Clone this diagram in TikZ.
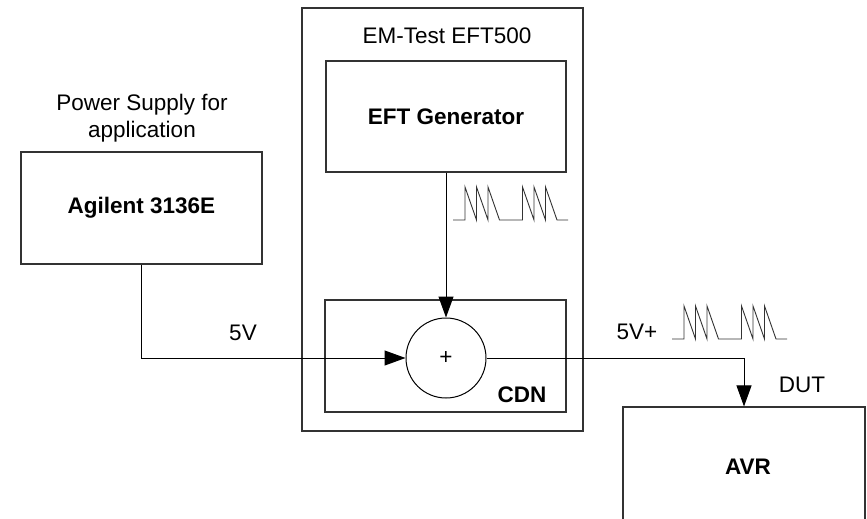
\documentclass[tikz,border=0pt]{standalone}
\usepackage{fontspec}
\setmainfont{Liberation Sans}
\usetikzlibrary{arrows.meta}
\begin{document}
\begin{tikzpicture}[x=1pt,y=-1pt,
  every node/.style={font=\fontsize{22.5}{27}\selectfont, inner sep=0pt},
  box/.style={draw=black!80, line width=1.1pt, rectangle},
  conn/.style={draw=black, line width=1pt, -{Triangle[length=21pt,width=15pt]}},
  wave/.style={draw=black!80, line width=0.9pt},
  burst/.pic={\draw[wave] (0,0) -- ++(12,0) -- ++(0,-33) -- ++(11.5,33) -- ++(0,-33) -- ++(11.5,33) -- ++(0,-33) -- ++(11.5,33) -- ++(23,0) -- ++(0,-33) -- ++(11.5,33) -- ++(0,-33) -- ++(11.5,33) -- ++(0,-33) -- ++(11.5,33) -- ++(11,0);}
]
\useasboundingbox (0,0) rectangle (867,519);
\clip (0,0) rectangle (867,519);
\fill[white] (0,0) rectangle (867,519);

% EM-Test outer box
\node[box, minimum width=281pt, minimum height=423pt] (emt) at (442.5,219.5) {};
\node (emtlabel) at (447,36) {EM-Test EFT500};
\node[box, minimum width=240pt, minimum height=111pt, font=\fontsize{22.5}{27}\selectfont\bfseries] (eft) at (446,116.5) {EFT Generator};
\node[box, minimum width=241pt, minimum height=112pt] (cdn) at (445.5,356) {};
\node[font=\fontsize{22.5}{27}\selectfont\bfseries] (cdnlabel) at (522,395) {CDN};
\node[draw=black, line width=1pt, circle, minimum size=80pt] (sum) at (446,358) {+};

% Power supply
\node[align=center] (pslabel) at (142,118) {Power Supply for\\application};
\node[box, minimum width=241pt, minimum height=112pt, font=\fontsize{22.5}{27}\selectfont\bfseries] (agil) at (141.5,208) {Agilent 3136E};

% DUT
\node[box, minimum width=242pt, minimum height=130pt] (avr) at (744,472) {};
\node[font=\fontsize{22.5}{27}\selectfont\bfseries] (avrlabel) at (748,467) {AVR};
\node (dut) at (802,385) {DUT};

% connectors
\draw[conn] (eft.south) -- (sum.north);
\draw[conn] (agil.south) |- (sum.west);
\draw[conn] (sum.east) -| (avr.north);

% labels
\node (fivev) at (243,333) {5V};
\node (fivevplus) at (637,332) {5V+};

% bursts
\pic at (453,220) {burst};
\pic at (672,339) {burst};
\end{tikzpicture}
\end{document}
